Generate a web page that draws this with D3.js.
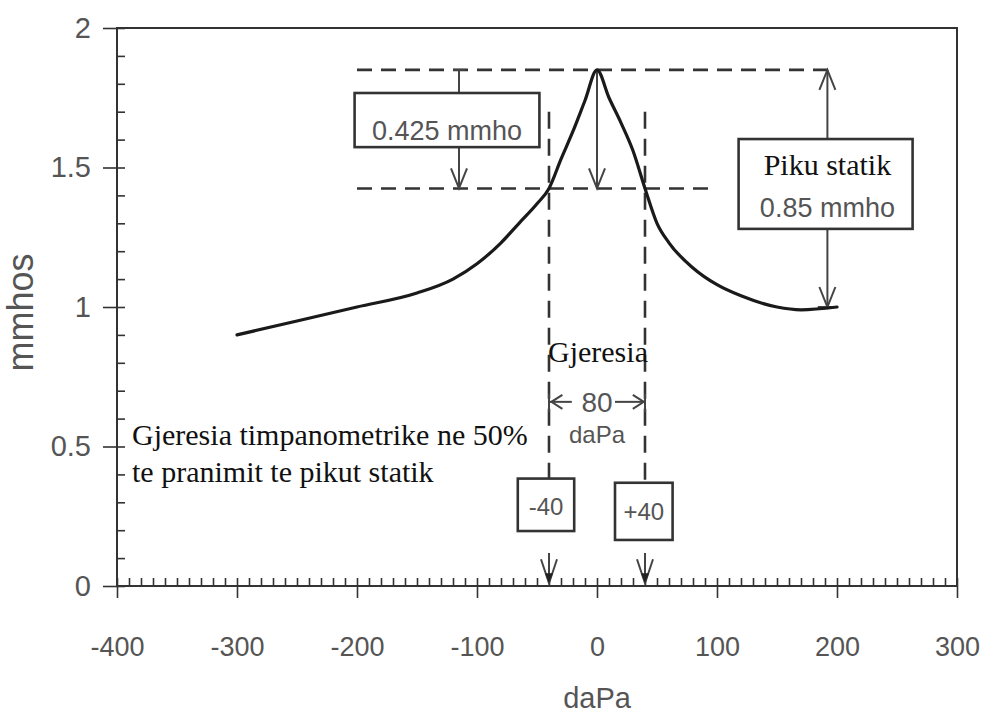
<!DOCTYPE html>
<meta charset="utf-8">
<style>
  body { margin: 0; background: #fff; }
  .tick text { font-family: "Liberation Sans", Arial, sans-serif; fill: #555; }
  .tick line { stroke: #333; stroke-width: 1.6; }
  .serif { font-family: "Liberation Serif", "Times New Roman", serif; fill: #111; }
  .sans { font-family: "Liberation Sans", Arial, sans-serif; fill: #555; }
</style>
<svg width="987" height="716"></svg>
<script src="https://d3js.org/d3.v7.min.js"></script>
<script>

// tympanogram
var pressure   = [-300, -250, -200, -150, -120, -100, -80, -65, -50, -40, -30, -20, -10, 0, 10, 20, 30, 40, 50, 60, 80, 100, 120, 150, 170, 200];
var admittance = [0.90, 0.95, 1.00, 1.05, 1.10, 1.155, 1.23, 1.30, 1.37, 1.425, 1.53, 1.63, 1.74, 1.85, 1.75, 1.66, 1.56, 1.425, 1.30, 1.23, 1.14, 1.08, 1.04, 1.00, 0.99, 1.00];

var xTickValues = [-400, -300, -200, -100, 0, 100, 200, 300];
var xTickLabels = ["-400", "-300", "-200", "-100", "0", "100", "200", "300"];
var yTickValues = [0, 0.5, 1, 1.5, 2];
var yTickLabels = ["0", "0.5", "1", "1.5", "2"];

var peakValue = 1.85, halfValue = 1.425, tailValue = 1.0;
var widthEdges = [-40, 40];

var svg = d3.select("svg"),
    margin = {top: 28, right: 30, bottom: 130, left: 117},
    width = +svg.attr("width") - margin.left - margin.right,
    height = +svg.attr("height") - margin.top - margin.bottom,
    g = svg.append("g").attr("transform", "translate(" + margin.left + "," + margin.top + ")");

var x = d3.scaleLinear().domain([-400, 300]).range([0, width]);
var y = d3.scaleLinear().domain([0, 2]).range([height, 0]);

// frame
g.append("rect")
    .attr("width", width).attr("height", height)
    .attr("fill", "none").attr("stroke", "#333").attr("stroke-width", 2);

// y axis: labelled ticks outside, minor ticks inside
g.append("g")
    .call(d3.axisLeft(y).tickValues(yTickValues).tickSize(14).tickPadding(12)
      .tickFormat(function(d, i) { return yTickLabels[i]; }))
    .call(function(a) { a.select(".domain").remove(); })
    .selectAll("text").style("font-size", "29px");

g.append("g")
    .call(d3.axisRight(y).tickValues(d3.range(0, 2.001, 0.1)).tickSize(8).tickFormat(""))
    .call(function(a) { a.select(".domain").remove(); });

// x axis
g.append("g")
    .attr("transform", "translate(0," + height + ")")
    .call(d3.axisBottom(x).tickValues(xTickValues).tickSize(12).tickPadding(39)
      .tickFormat(function(d, i) { return xTickLabels[i]; }))
    .call(function(a) { a.select(".domain").remove(); })
    .selectAll("text").style("font-size", "27px");

g.append("g")
    .attr("transform", "translate(0," + height + ")")
    .call(d3.axisTop(x).tickValues(d3.range(-400, 301, 10)).tickSize(8).tickFormat(""))
    .call(function(a) { a.select(".domain").remove(); });

g.selectAll(".tick line").attr("stroke", "#333").attr("stroke-width", 1.6);

// axis titles
svg.append("text").attr("class", "sans")
    .attr("transform", "translate(33," + (margin.top + y(0.98)) + ") rotate(-90)")
    .attr("text-anchor", "middle")
    .style("font-size", "36px")
    .text("mmhos");

g.append("text").attr("class", "sans")
    .attr("x", x(0)).attr("y", height + 122)
    .attr("text-anchor", "middle")
    .style("font-size", "29px")
    .text("daPa");

// helpers
function dashed(x1, y1, x2, y2, dash) {
  g.append("line")
      .attr("x1", x(x1)).attr("y1", y(y1)).attr("x2", x(x2)).attr("y2", y(y2))
      .attr("stroke", "#333").attr("stroke-width", 2.6)
      .attr("stroke-dasharray", dash);
}

function plain(x1, y1, x2, y2) {
  g.append("line")
      .attr("x1", x(x1)).attr("y1", y(y1)).attr("x2", x(x2)).attr("y2", y(y2))
      .attr("stroke", "#444").attr("stroke-width", 2);
}

// chevron at (x2,y2) pointing away from (x1,y1)
function head(x1, y1, x2, y2, len, w) {
  var ax = x(x1), ay = y(y1), bx = x(x2), by = y(y2);
  var ang = Math.atan2(by - ay, bx - ax);
  var cx = bx - len * Math.cos(ang), cy = by - len * Math.sin(ang);
  var px = -Math.sin(ang) * w, py = Math.cos(ang) * w;
  g.append("path")
      .attr("d", "M" + (cx + px) + "," + (cy + py) + "L" + bx + "," + by + "L" + (cx - px) + "," + (cy - py))
      .attr("fill", "none").attr("stroke", "#444").attr("stroke-width", 2);
}

function arrow(x1, y1, x2, y2) {
  plain(x1, y1, x2, y2);
  head(x1, y1, x2, y2, 20, 8);
}

function box(x1, y1, x2, y2) {
  g.append("rect")
      .attr("x", x(x1)).attr("y", y(y1))
      .attr("width", x(x2) - x(x1)).attr("height", y(y2) - y(y1))
      .attr("fill", "#fff").attr("stroke", "#333").attr("stroke-width", 2.6);
}

// reference lines
dashed(-200, peakValue, 192, peakValue, "15,9");
dashed(-200, halfValue, 95, halfValue, "15,9");
dashed(widthEdges[0], 1.7, widthEdges[0], 0.385, "17,10");
dashed(widthEdges[1], 1.7, widthEdges[1], 0.37, "17,10");

// 0.425 mmho arrow and box
plain(-115, peakValue, -115, 1.77);
plain(-120, peakValue, -110, peakValue);
arrow(-115, 1.573, -115, halfValue);
box(-202, 1.767, -48, 1.573);
g.append("text").attr("class", "sans")
    .attr("x", (x(-202) + x(-48)) / 2).attr("y", y(1.6))
    .attr("text-anchor", "middle").style("font-size", "27px")
    .text("0.425 mmho");

// peak down to half
arrow(0, peakValue, 0, halfValue);

// static peak arrows and box
arrow(192, 1.602, 192, peakValue);
arrow(192, 1.28, 192, tailValue);
plain(184, tailValue, 200, tailValue);
box(118, 1.602, 263, 1.28);
g.append("text").attr("class", "serif")
    .attr("x", x(192)).attr("y", y(1.473))
    .attr("text-anchor", "middle").style("font-size", "30px")
    .text("Piku statik");
g.append("text").attr("class", "sans")
    .attr("x", x(192)).attr("y", y(1.323))
    .attr("text-anchor", "middle").style("font-size", "27px")
    .text("0.85 mmho");

// curve
var line = d3.line()
    .curve(d3.curveMonotoneX)
    .x(function(d, i) { return x(pressure[i]); })
    .y(function(d) { return y(d); });

g.append("path")
    .datum(admittance)
    .attr("fill", "none")
    .attr("stroke", "#1a1a1a")
    .attr("stroke-width", 3.2)
    .attr("stroke-linejoin", "round")
    .attr("stroke-linecap", "round")
    .attr("d", line);

// width label
g.append("text").attr("class", "serif")
    .attr("x", x(widthEdges[0]) - 1).attr("y", y(0.803))
    .style("font-size", "30px")
    .text("Gjeresia");

plain(widthEdges[0], 0.69, widthEdges[0], 0.625);
plain(widthEdges[1], 0.69, widthEdges[1], 0.625);
plain(widthEdges[0], 0.66, -21, 0.66);
head(-21, 0.66, widthEdges[0] + 2, 0.66, 11, 7);
plain(15, 0.66, widthEdges[1], 0.66);
head(15, 0.66, widthEdges[1] - 1, 0.66, 11, 7);
g.append("text").attr("class", "sans")
    .attr("x", x(0)).attr("y", y(0.624))
    .attr("text-anchor", "middle").style("font-size", "28px")
    .text("80");
g.append("text").attr("class", "sans")
    .attr("x", x(0)).attr("y", y(0.513))
    .attr("text-anchor", "middle").style("font-size", "24px")
    .text("daPa");

// -40 / +40 boxes
box(-66, 0.385, -19, 0.197);
g.append("text").attr("class", "sans")
    .attr("x", (x(-66) + x(-19)) / 2).attr("y", y(0.254))
    .attr("text-anchor", "middle").style("font-size", "24px")
    .text("-40");
box(15, 0.37, 63, 0.165);
g.append("text").attr("class", "sans")
    .attr("x", (x(15) + x(63)) / 2).attr("y", y(0.237))
    .attr("text-anchor", "middle").style("font-size", "24px")
    .text("+40");

widthEdges.forEach(function(e) {
  plain(e, 0.118, e, 0.01);
  head(e, 0.118, e, 0.01, 24, 8);
  var bx = x(e), by = y(0.01);
  g.append("path")
      .attr("d", "M" + (bx - 4) + "," + (by - 10) + "L" + bx + "," + by + "L" + (bx + 4) + "," + (by - 10) + "Z")
      .attr("fill", "#222");
});

// note
g.append("text").attr("class", "serif")
    .attr("x", x(-387.5)).attr("y", y(0.505))
    .style("font-size", "30px")
    .text("Gjeresia timpanometrike ne 50%");
g.append("text").attr("class", "serif")
    .attr("x", x(-387.5)).attr("y", y(0.373))
    .style("font-size", "30px")
    .text("te pranimit te pikut statik");

</script>
